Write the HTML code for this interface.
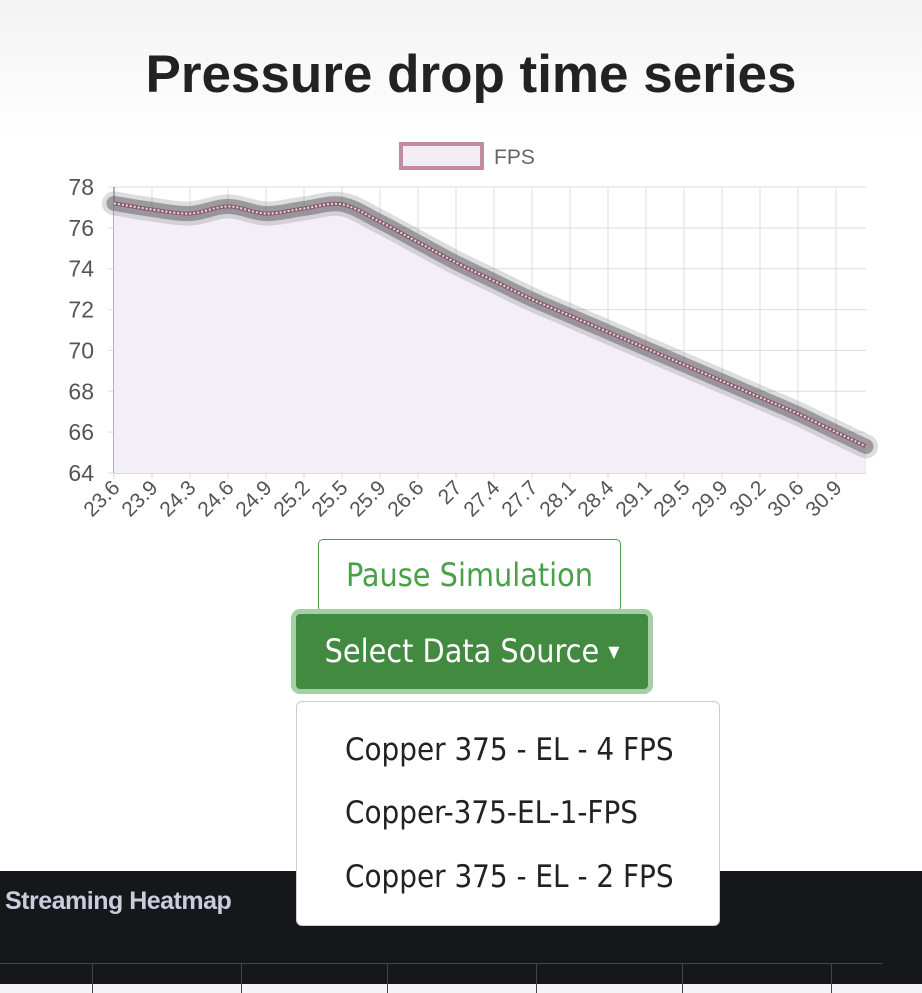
<!DOCTYPE html>
<html><head><meta charset="utf-8"><style>
body{margin:0;width:922px;height:984px;overflow:hidden;font-family:"Liberation Sans",sans-serif;background:linear-gradient(#f3f3f3 0,#fff 140px,#fff);position:relative}
.t{position:absolute;left:10px;width:922px;text-align:center;top:44px;font-size:53px;font-weight:bold;color:#222}
.btn{position:absolute;box-sizing:border-box;text-align:center;font-size:32px;font-family:"DejaVu Sans Condensed","Liberation Sans",sans-serif}
.dd{position:absolute;left:296px;top:701px;width:424px;height:225px;background:#fff;border:1px solid #ccc;border-radius:6px;box-sizing:border-box;z-index:3}
.dd div{position:absolute;left:48px;font-size:31px;color:#222;font-family:"DejaVu Sans Condensed","Liberation Sans",sans-serif}
</style></head><body>
<div class="t">Pressure drop time series</div>
<svg id="c" width="922" height="540" style="position:absolute;left:0;top:0"></svg>
<div class="btn" style="left:318px;top:539px;width:303px;height:73px;border:1.5px solid #4a9f4a;border-radius:5px;color:#4a9f4a;line-height:70px;background:#fff">Pause Simulation</div>
<div class="btn" style="left:291px;top:609px;width:362px;height:85px;border:5px solid #a5d0a5;border-radius:9px;background:#418a40;color:#fff;line-height:75px">Select Data Source <span style="font-size:16px;vertical-align:5px">▼</span></div>
<div style="position:absolute;left:0;top:871px;width:922px;height:113px;background:#16171b">
<div style="position:absolute;left:5px;top:16px;color:#ccd;font-size:25px;font-weight:bold;letter-spacing:-0.5px">Streaming Heatmap</div>
<div style="position:absolute;left:0;top:92px;width:882px;border-top:1px solid #444"></div>
<div style="position:absolute;left:92px;top:92px;width:148px;height:30px;border-left:1px solid #444;border-right:1px solid #444"></div>
<div style="position:absolute;left:387px;top:92px;width:148px;height:30px;border-left:1px solid #444;border-right:1px solid #444"></div>
<div style="position:absolute;left:682px;top:92px;width:148px;height:30px;border-left:1px solid #444;border-right:1px solid #444"></div>
</div>
<div class="dd">
<div style="top:30px">Copper 375 - EL - 4 FPS</div>
<div style="top:93px">Copper-375-EL-1-FPS</div>
<div style="top:157px">Copper 375 - EL - 2 FPS</div>
</div>
<script>
const labels=["23.6","23.9","24.3","24.6","24.9","25.2","25.5","25.9","26.6","27","27.4","27.7","28.1","28.4","29.1","29.5","29.9","30.2","30.6","30.9",""];
const values=[77.2,76.9,76.7,77.05,76.7,76.95,77.15,76.3,75.3,74.3,73.4,72.5,71.7,70.9,70.1,69.3,68.5,67.7,66.9,66.0,65.3];
const yTicks=[64,66,68,70,72,74,76,78];
const NS="http://www.w3.org/2000/svg",svg=document.getElementById('c');
const L=114,R=866,T=187,B=473,step=38;
const x=i=>i<labels.length-1?L+i*step:R;
const y=v=>B-(v-64)/14*(B-T);
function el(t,a,p){const e=document.createElementNS(NS,t);for(const k in a)e.setAttribute(k,a[k]);(p||svg).appendChild(e);return e;}
const lg=el('rect',{x:401,y:144,width:81,height:24,fill:'#f3eef6',stroke:'#c48aa0','stroke-width':4});

const lt=el('text',{x:494,y:164,'font-size':21,fill:'#666'});lt.textContent='FPS';

yTicks.forEach(v=>{el('line',{x1:L-6,x2:R,y1:y(v),y2:y(v),stroke:'#ddd'});
const t=el('text',{x:L-20,y:y(v)+8,'font-size':23,fill:'#555','text-anchor':'end'});t.textContent=v;
});
labels.forEach((l,i)=>{if(!l)return;const xx=x(i);el('line',{x1:xx,x2:xx,y1:T,y2:B+6,stroke:'#ddd'});
const t=el('text',{'font-size':21,fill:'#555','text-anchor':'end',transform:`translate(${xx+7},${B+16}) rotate(-45)`});t.textContent=l;
});
el('line',{x1:L,x2:L,y1:T,y2:B,stroke:'#999','stroke-width':1.5});
el('line',{x1:L,x2:R,y1:B,y2:B,stroke:'#bbb'});
const pts=values.map((v,i)=>[x(i),y(v)]);
let d=`M${pts[0][0]},${pts[0][1]}`;
for(let i=0;i<pts.length-1;i++){const p0=pts[Math.max(i-1,0)],p1=pts[i],p2=pts[i+1],p3=pts[Math.min(i+2,pts.length-1)];
d+=` C${p1[0]+(p2[0]-p0[0])/6},${p1[1]+(p2[1]-p0[1])/6} ${p2[0]-(p3[0]-p1[0])/6},${p2[1]-(p3[1]-p1[1])/6} ${p2[0]},${p2[1]}`;}
const f=el('path',{d:d+` L${R},${B} L${L},${B} Z`,fill:'#f3eef7'});

el('path',{d,fill:'none',stroke:'rgba(120,120,125,0.25)','stroke-width':24,'stroke-linecap':'round'});
const s=el('path',{d,fill:'none',stroke:'rgba(100,100,105,0.55)','stroke-width':15,'stroke-linecap':'round'});

const ln=el('path',{d,fill:'none',stroke:'#8a5a6a','stroke-width':4});

el('path',{d,fill:'none',stroke:'#e8dde6','stroke-width':2,'stroke-dasharray':'2 2'});
</script>
</body></html>
